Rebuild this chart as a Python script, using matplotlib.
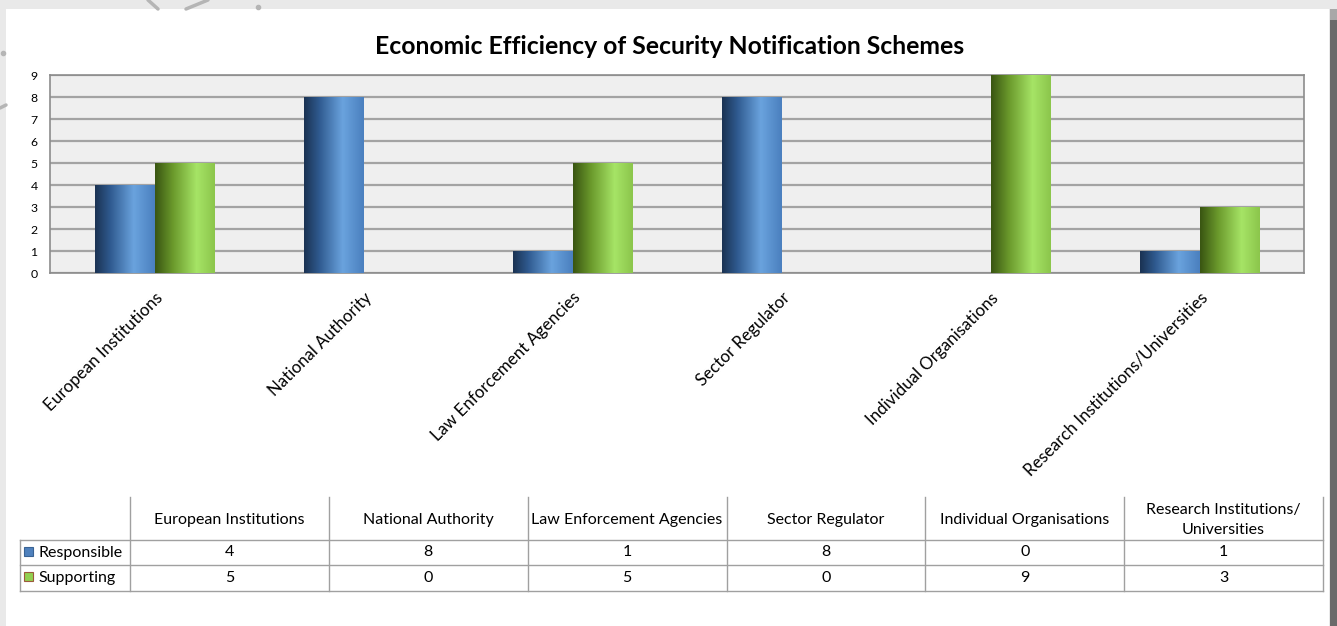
"""Bar chart with data table: roles of bodies in security notification schemes."""

import numpy as np
import matplotlib.pyplot as plt
from matplotlib.colors import LinearSegmentedColormap
from matplotlib.patches import Rectangle

categories = ["European Institutions", "National Authority", "Law Enforcement Agencies",
              "Sector Regulator", "Individual Organisations", "Research Institutions/Universities"]
table_headers = ["European Institutions", "National Authority", "Law Enforcement Agencies",
                 "Sector Regulator", "Individual Organisations", "Research Institutions/\nUniversities"]
responsible = [4, 8, 1, 8, 0, 1]
supporting = [5, 0, 5, 0, 9, 3]
series = [("Responsible", responsible), ("Supporting", supporting)]

FONT = "Lato"
W, H = 1337, 626

blue_cmap = LinearSegmentedColormap.from_list(
    "cyl_blue", [(0, "#1b3354"), (0.25, "#2f5a8f"), (0.65, "#6aa3de"), (1, "#4b80bf")])
green_cmap = LinearSegmentedColormap.from_list(
    "cyl_green", [(0, "#3a5612"), (0.3, "#6b9a2c"), (0.7, "#a6e466"), (1, "#8cc64c")])
key_colors = [("#4f81bd", "#3a6394"), ("#92d050", "#9b5a3c")]

fig = plt.figure(figsize=(W / 100, H / 100), dpi=100)
fig.patch.set_facecolor("#e9e9e9")

# page frame drawn in pixel space behind everything
bg = fig.add_axes([0, 0, 1, 1], zorder=0)
bg.set_xlim(0, W)
bg.set_ylim(H, 0)
bg.axis("off")
bg.add_patch(Rectangle((6, 9), 1323, H - 9, facecolor="white", edgecolor="none"))
bg.add_patch(Rectangle((1330, 20), 7, H - 20, facecolor="#6a6a6a", edgecolor="none"))
bg.add_patch(Rectangle((1330, 9), 7, 11, facecolor="#a8a8a8", edgecolor="none"))
for seg in [((148, 0), (158, 9)), ((186, 9), (208, 0)), ((0, 108), (6, 105))]:
    bg.plot(*zip(*seg), color="#b5b5b5", lw=2.5, solid_capstyle="round")
bg.plot([3, 258], [53, 7], ls="none", marker="o", ms=3, color="#b5b5b5")

bg.text(670, 47, "Economic Efficiency of Security Notification Schemes", fontsize=17.8,
        fontweight="bold", fontfamily=FONT, ha="center", va="center")

# plot area
ax = fig.add_axes([50 / W, 1 - 273 / H, (1304 - 50) / W, (273 - 75) / H], zorder=1)
ax.set_facecolor("#efefef")
x = np.arange(len(categories))
bw = 0.285
for i, ((name, vals), cmap) in enumerate(zip(series, [blue_cmap, green_cmap])):
    bars = ax.bar(x + (i - 0.5) * bw, vals, bw, facecolor="none", edgecolor="none", zorder=3)
    grad = np.linspace(0, 1, 64).reshape(1, -1)
    for b in bars:
        if b.get_height() <= 0:
            continue
        x0 = b.get_x()
        im = ax.imshow(grad, cmap=cmap, aspect="auto", zorder=3,
                       extent=[x0, x0 + b.get_width(), 0, b.get_height()])
        im.set_clip_path(b)

ax.set_xlim(-0.5, len(categories) - 0.5)
ax.set_ylim(0, 9)
ax.set_yticks(range(10))
ax.yaxis.grid(True, color="#a3a3a3", lw=1.6)
ax.set_axisbelow(True)
for s in ax.spines.values():
    s.set_color("#8c8c8c")
    s.set_linewidth(1.2)
ax.tick_params(axis="y", length=0, pad=9, labelsize=8.8)
ax.tick_params(axis="x", length=0, pad=12)
for lab in ax.get_yticklabels():
    lab.set_fontfamily(FONT)
ax.set_xticks(x)
ax.set_xticklabels(categories, rotation=45, ha="right", rotation_mode="anchor",
                   fontsize=12.2, fontfamily=FONT)

# data table under the chart
cols = np.linspace(130, 1323, len(categories) + 1)
rows = [540, 565, 591]
lc, lw = "#a0a0a0", 1.0
for y in rows:
    bg.plot([20, cols[-1]], [y, y], color=lc, lw=lw)
for xc in cols:
    bg.plot([xc, xc], [497, rows[-1]], color=lc, lw=lw)
bg.plot([20, 20], [rows[0], rows[-1]], color=lc, lw=lw)

fs = 11.5
for j, head in enumerate(table_headers):
    cx = (cols[j] + cols[j + 1]) / 2
    bg.text(cx, 520, head, ha="center", va="center", fontsize=fs, fontfamily=FONT,
            linespacing=1.55)
for r, ((name, vals), (fc, ec)) in enumerate(zip(series, key_colors)):
    cy = (rows[r] + rows[r + 1]) / 2
    bg.add_patch(Rectangle((24, cy - 6), 9, 9, facecolor=fc, edgecolor=ec, lw=0.8))
    bg.text(38, cy, name, ha="left", va="center", fontsize=fs, fontfamily=FONT)
    for j, v in enumerate(vals):
        cx = (cols[j] + cols[j + 1]) / 2
        bg.text(cx, cy, str(v), ha="center", va="center", fontsize=fs, fontfamily=FONT)

fig.savefig("out.png", dpi=100, facecolor=fig.get_facecolor())
